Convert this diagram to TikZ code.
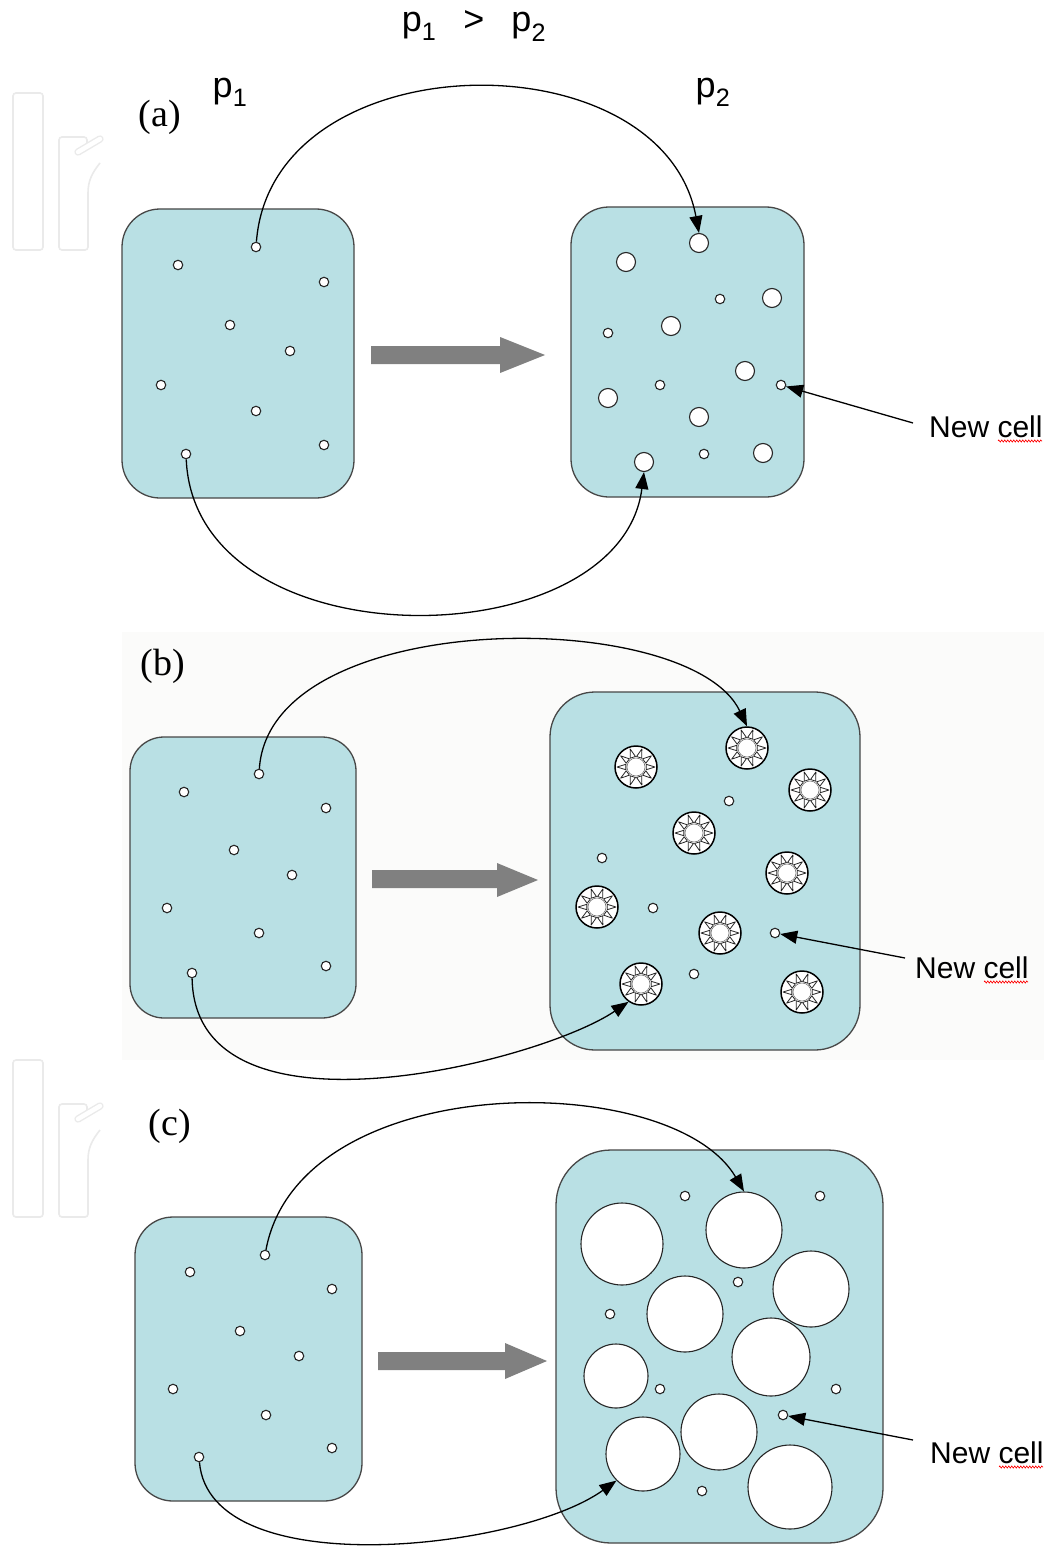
\documentclass[tikz,border=0pt]{standalone}
\usepackage{fontspec}
\setmainfont{Liberation Sans}
\newfontfamily\seriffont{Liberation Serif}
\usetikzlibrary{arrows.meta,decorations.pathmorphing}
\definecolor{cellfill}{RGB}{185,224,228}
\definecolor{wmgray}{RGB}{234,234,234}
\definecolor{bggray}{RGB}{251,251,250}
\definecolor{arrowgray}{RGB}{128,128,128}
\tikzset{
  box/.style={draw=black!72, line width=1.3pt, fill=cellfill},
  hole/.style={circle, draw=black!85, fill=white, line width=1.1pt, inner sep=0pt, minimum size=#1},
  hole/.default=9.5pt,
  conn/.style={line width=1.3pt, -{Triangle[length=17pt,width=13pt]}},
  blockarrow/.style={fill=arrowgray, draw=none},
  lab/.style={font=\fontsize{30}{36}\selectfont, inner sep=0pt},
  plab/.style={font=\fontsize{36}{40}\selectfont, inner sep=0pt},
  panel/.style={font=\seriffont\fontsize{38}{44}\selectfont, inner sep=0pt},
  squig/.style={draw=red, line width=0.6pt, decorate, decoration={zigzag, amplitude=1.1pt, segment length=3pt}},
  wm/.style={draw=wmgray, line width=1.6pt},
  bubout/.style={circle, draw=black, fill=white, line width=1.5pt, inner sep=0pt, minimum size=42pt},
  bubin/.style={circle, draw=black!55, fill=white, line width=0.6pt, inner sep=0pt, minimum size=18pt},
  tri/.style={draw=black!85, fill=white, line width=0.8pt, line join=round},
  bubble/.pic={
    \node[bubout] (-o) at (0,0) {};
    \foreach \a in {0,36,...,324}{
      \draw[tri] (\a:19) -- (\a+15:10.5) -- (\a-15:10.5) -- cycle;
    }
    \node[bubin] at (0,0) {};
  },
  ir/.pic={
    \draw[wm, rounded corners=3] (13,0) rectangle (43,157);
    \draw[wm, rounded corners=3] (100,70) .. controls (92,80) and (88,88) .. (88,103) -- (88,157) -- (59,157) -- (59,44) -- (87,44) -- (87,50);
    \draw[wm, double=white, double distance=4.5pt, line cap=round, line width=1.4pt] (78,59) -- (100,46);
  }
}
\begin{document}
\begin{tikzpicture}[x=1pt,y=-1pt]
\useasboundingbox (0,0) rectangle (1044,1546);
\fill[white] (0,0) rectangle (1044,1546);
% faint photographic background of panel (b)
\fill[bggray] (122,632) rectangle (1044,1060);
% watermarks
\pic at (0,93) {ir};
\pic at (0,1060) {ir};

% ---------------- titles ----------------
\node[plab, anchor=base] (title) at (474,32) {p\textsubscript{1}\hspace{27pt}>\hspace{27pt}p\textsubscript{2}};
\node[plab] (pone) at (230,92) {p\textsubscript{1}};
\node[plab] (ptwo) at (713,92) {p\textsubscript{2}};

% ================= panel (a) =================
\node[panel] (la) at (160,117) {(a)};
\draw[box, rounded corners=38pt] (122,209) rectangle (354,498);
\draw[box, rounded corners=38pt] (571,207) rectangle (804,497);
\fill[blockarrow] (371,346) -- (500,346) -- (500,337) -- (545,355) -- (500,373) -- (500,364) -- (371,364) -- cycle;
\foreach \x/\y [count=\i] in {256/247,178/265,324/282,230/325,290/351,161/385,256/411,324/445,186/454}
  \node[hole] (aL\i) at (\x,\y) {};
\foreach \x/\y [count=\i] in {699/243,626/262,772/298,671/326,745/371,608/398,699/417,763/453,644/462}
  \node[hole=19pt] (aR\i) at (\x,\y) {};
\foreach \x/\y [count=\i] in {720/299,608/333,660/385,781/385,704/454}
  \node[hole] (aS\i) at (\x,\y) {};
\draw[conn] (aL1) .. controls (272,40) and (662,35) .. (aR1.north);
\draw[conn] (aL9) .. controls (195,665) and (620,660) .. (aR9.south);
\node[lab, anchor=base west] (anew) at (929,437) {New cell};
\draw[squig] ([xshift=69pt,yshift=-4pt]anew.base west) -- ([xshift=113pt,yshift=-4pt]anew.base west);
\coordinate (anews) at (913,423);
\draw[conn] (anews) -- (aS4);

% ================= panel (b) =================
\node[panel] (lb) at (163,666) {(b)};
\draw[box, rounded corners=34pt] (130,737) rectangle (356,1018);
\draw[box, rounded corners=45pt] (550,692) rectangle (860,1050);
\fill[blockarrow] (372,870) -- (497,870) -- (497,863) -- (538,880) -- (497,897) -- (497,888) -- (372,888) -- cycle;
\foreach \x/\y [count=\i] in {259/774,184/792,326/808,234/850,292/875,167/908,259/933,326/966,192/973}
  \node[hole] (bL\i) at (\x,\y) {};
\foreach \x/\y [count=\i] in {747/748,636/767,810/790,694/833,787/873,597/907,720/933,641/984,802/992}
  \pic (bB\i) at (\x,\y) {bubble};
\foreach \x/\y [count=\i] in {729/801,602/858,653/908,775/933,694/974}
  \node[hole] (bS\i) at (\x,\y) {};
\draw[conn] (bL1) .. controls (270,606) and (690,606) .. (bB1-o.north);
\draw[conn] (bL9) .. controls (195,1150) and (540,1062) .. (bB8-o.235);
\node[lab, anchor=base west] (bnew) at (915,978) {New cell};
\draw[squig] ([xshift=69pt,yshift=-4pt]bnew.base west) -- ([xshift=113pt,yshift=-4pt]bnew.base west);
\coordinate (bnews) at (905,958);
\draw[conn] (bnews) -- (bS4);

% ================= panel (c) =================
\node[panel] (lc) at (170,1126) {(c)};
\draw[box, rounded corners=38pt] (135,1217) rectangle (362,1501);
\draw[box, rounded corners=55pt] (556,1150) rectangle (883,1543);
\fill[blockarrow] (378,1352) -- (505,1352) -- (505,1343) -- (547,1361) -- (505,1379) -- (505,1370) -- (378,1370) -- cycle;
\foreach \x/\y [count=\i] in {265/1255,190/1272,332/1289,240/1331,299/1356,173/1389,266/1415,332/1448,199/1457}
  \node[hole] (cL\i) at (\x,\y) {};
\foreach \x/\y/\d [count=\i] in {622/1244/82,744/1230/76,811/1289/76,685/1314/76,771/1357/78,616/1376/64,719/1432/76,643/1454/74,790/1487/84}
  \node[hole=\d pt] (cB\i) at (\x,\y) {};
\foreach \x/\y [count=\i] in {685/1196,820/1196,738/1282,610/1314,660/1389,836/1389,783/1415,702/1491}
  \node[hole] (cS\i) at (\x,\y) {};
\draw[conn] (cL1) .. controls (300,1068) and (672,1068) .. (cB2.north);
\draw[conn] (cL9) .. controls (210,1585) and (520,1550) .. (cB8.225);
\node[lab, anchor=base west] (cnew) at (930,1463) {New cell};
\draw[squig] ([xshift=69pt,yshift=-4pt]cnew.base west) -- ([xshift=113pt,yshift=-4pt]cnew.base west);
\coordinate (cnews) at (913,1440);
\draw[conn] (cnews) -- (cS7);
\end{tikzpicture}
\end{document}
